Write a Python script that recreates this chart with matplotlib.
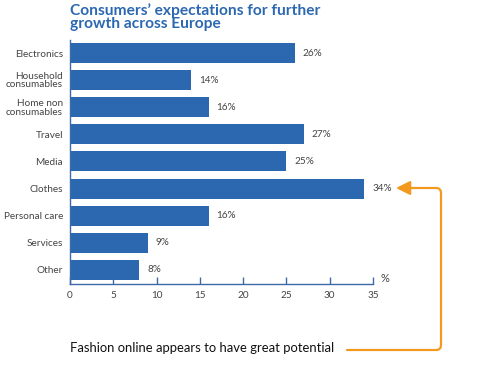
import matplotlib
matplotlib.use("Agg")
import matplotlib.pyplot as plt
from matplotlib.path import Path
from matplotlib.patches import FancyArrowPatch

categories = ["Electronics", "Household\nconsumables", "Home non\nconsumables", "Travel",
              "Media", "Clothes", "Personal care", "Services", "Other"]
values = [26, 14, 16, 27, 25, 34, 16, 9, 8]
xticks = [0, 5, 10, 15, 20, 25, 30, 35]

BLUE = "#2C68B0"
AXBLUE = "#3A6AA8"
GRAY = "#444444"
ORANGE = "#F39A1E"
FONT = ["Lato", "DejaVu Sans"]

W, H = 487, 369
fig = plt.figure(figsize=(W / 100, H / 100), dpi=100)
ax = fig.add_axes([70 / W, 1 - 284 / H, 303 / W, 244 / H])

y = list(range(len(categories)))
ax.barh(y, values, height=0.74, color=BLUE, zorder=2)
for yi, v in zip(y, values):
    ax.text(v + 0.9, yi, f"{v}%", va="center", ha="left", fontsize=7.2,
            color=GRAY, family=FONT)

ax.set_xlim(0, 35)
ax.set_ylim(8.52, -0.48)
ax.set_yticks(y)
ax.set_yticklabels(categories, fontsize=7.2, color=GRAY, family=FONT, linespacing=0.9)
ax.tick_params(axis="y", length=0, pad=5)
ax.set_xticks(xticks)
ax.set_xticklabels([str(t) for t in xticks], fontsize=7.2, color=GRAY, family=FONT)
ax.tick_params(axis="x", direction="in", length=5, color=AXBLUE, width=1, pad=5)
for s in ["top", "right"]:
    ax.spines[s].set_visible(False)
for s in ["left", "bottom"]:
    ax.spines[s].set_color(AXBLUE)
    ax.spines[s].set_linewidth(1)

ax.text(1.025, 0.0, "%", transform=ax.transAxes, fontsize=8, color=GRAY,
        family=FONT, ha="left", va="bottom")

fig.text(70 / W, 1 - 3 / H, "Consumers\u2019 expectations for further\ngrowth across Europe",
         fontsize=11.2, fontweight="bold", color=BLUE, family=FONT,
         ha="left", va="top", linespacing=0.95)

fig.text(70 / W, 1 - 348 / H, "Fashion online appears to have great potential",
         fontsize=9.4, color="#111111", family=FONT, ha="left", va="center")

def fp(x, yy):
    return (x / W, 1 - yy / H)

verts = [fp(347, 350), fp(436, 350), fp(441, 350), fp(441, 345),
         fp(441, 193), fp(441, 188), fp(436, 188), fp(396, 188)]
codes = [Path.MOVETO, Path.LINETO, Path.CURVE3, Path.CURVE3,
         Path.LINETO, Path.CURVE3, Path.CURVE3, Path.LINETO]
arrow = FancyArrowPatch(path=Path(verts, codes), arrowstyle="-|>,head_length=0.7,head_width=0.35",
                        mutation_scale=12, color=ORANGE, lw=1.6,
                        transform=fig.transFigure, shrinkA=0, shrinkB=0)
fig.patches.append(arrow)

fig.savefig("out.png", dpi=100)
